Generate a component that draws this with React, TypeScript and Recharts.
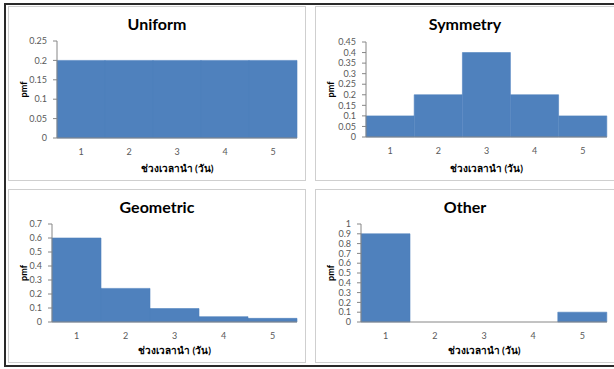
import { BarChart, Bar, XAxis, YAxis, Label } from "recharts";

// ข้อมูล pmf ของแต่ละแบบ (อ่านค่าจากภาพ)
const days = ["1", "2", "3", "4", "5"];
const uniformPmf = [0.2, 0.2, 0.2, 0.2, 0.2];
const symmetryPmf = [0.1, 0.2, 0.4, 0.2, 0.1];
const geometricPmf = [0.6, 0.24, 0.096, 0.038, 0.026];
const otherPmf = [0.9, 0, 0, 0, 0.1];

const uniformTicks = [0, 0.05, 0.1, 0.15, 0.2, 0.25];
const symmetryTicks = [0, 0.05, 0.1, 0.15, 0.2, 0.25, 0.3, 0.35, 0.4, 0.45];
const geometricTicks = [0, 0.1, 0.2, 0.3, 0.4, 0.5, 0.6, 0.7];
const otherTicks = [0, 0.1, 0.2, 0.3, 0.4, 0.5, 0.6, 0.7, 0.8, 0.9, 1];

const xTitle = "ช่วงเวลานำ (วัน)";
const yTitle = "pmf";

const FONT = "Lato, 'Noto Sans', 'DejaVu Sans', sans-serif";
const BAR = "#4f81bd";
const AXIS = "#868686";
const TICK = "#595959";

type PanelProps = {
  title: string;
  values: number[];
  ticks: number[];
  left: number;
  top: number;
  width: number;
  height: number;
  axisX: number;
  plotTop: number;
  plotBottom: number;
  plotRight: number;
};

function PmfLabel(props: any) {
  const { x, y, height } = props.viewBox;
  const cx = x + 15;
  const cy = y + height / 2;
  return (
    <text
      x={cx}
      y={cy}
      transform={`rotate(-90 ${cx} ${cy})`}
      textAnchor="middle"
      dominantBaseline="central"
      fontSize={9}
      fontWeight="bold"
      fill="#000"
      fontFamily={FONT}
    >
      {yTitle}
    </text>
  );
}

function Panel({
  title,
  values,
  ticks,
  left,
  top,
  width,
  height,
  axisX,
  plotTop,
  plotBottom,
  plotRight,
}: PanelProps) {
  const data = days.map((d, i) => ({ day: d, pmf: values[i] }));
  const max = ticks[ticks.length - 1];

  return (
    <div
      style={{
        position: "absolute",
        left,
        top,
        width,
        height,
        border: "1px solid #cfcfcf",
        boxSizing: "border-box",
        background: "#fff",
      }}
    >
      <div
        style={{
          position: "absolute",
          left: 0,
          top: 6,
          width: "100%",
          height: 22,
          lineHeight: "22px",
          textAlign: "center",
          fontFamily: FONT,
          fontWeight: "bold",
          fontSize: 16,
          color: "#000",
        }}
      >
        {title}
      </div>
      <div style={{ position: "absolute", left: -1, top: -1 }}>
        <BarChart
          width={width}
          height={height}
          data={data}
          barCategoryGap={0}
          margin={{ top: plotTop, right: width - plotRight, left: 0, bottom: 0 }}
        >
          <XAxis
            dataKey="day"
            height={height - plotBottom}
            axisLine={{ stroke: AXIS }}
            tickLine={false}
            tickMargin={5}
            tick={{ fontSize: 9, fill: TICK, fontFamily: FONT }}
          >
            <Label
              value={xTitle}
              position="insideBottom"
              offset={9}
              style={{ fontSize: 10, fontWeight: "bold", fill: "#000", fontFamily: FONT }}
            />
          </XAxis>
          <YAxis
            width={axisX}
            domain={[0, max]}
            ticks={ticks}
            interval={0}
            axisLine={{ stroke: AXIS }}
            tickLine={{ stroke: AXIS }}
            tickSize={4}
            tickMargin={6}
            tick={{ fontSize: 9, fill: TICK, fontFamily: FONT }}
            label={<PmfLabel />}
          />
          <Bar
            dataKey="pmf"
            fill={BAR}
            stroke={BAR}
            strokeWidth={0.6}
            isAnimationActive={false}
          />
        </BarChart>
      </div>
    </div>
  );
}

export default function App() {
  return (
    <div
      style={{
        position: "fixed",
        left: 0,
        top: 0,
        width: 614,
        height: 369,
        overflow: "hidden",
        background: "#fff",
      }}
    >
      <div
        style={{
          position: "absolute",
          left: 4,
          top: 3,
          width: 640,
          height: 364,
          border: "2px solid #2a2a2a",
          boxSizing: "border-box",
        }}
      />
      <Panel
        title="Uniform"
        values={uniformPmf}
        ticks={uniformTicks}
        left={8}
        top={6}
        width={298}
        height={175}
        axisX={49}
        plotTop={35}
        plotBottom={132}
        plotRight={289}
      />
      <Panel
        title="Symmetry"
        values={symmetryPmf}
        ticks={symmetryTicks}
        left={315}
        top={6}
        width={300}
        height={175}
        axisX={51}
        plotTop={36}
        plotBottom={131}
        plotRight={292}
      />
      <Panel
        title="Geometric"
        values={geometricPmf}
        ticks={geometricTicks}
        left={8}
        top={189}
        width={298}
        height={174}
        axisX={44}
        plotTop={35}
        plotBottom={133}
        plotRight={289}
      />
      <Panel
        title="Other"
        values={otherPmf}
        ticks={otherTicks}
        left={315}
        top={189}
        width={300}
        height={174}
        axisX={46}
        plotTop={35}
        plotBottom={133}
        plotRight={292}
      />
    </div>
  );
}
